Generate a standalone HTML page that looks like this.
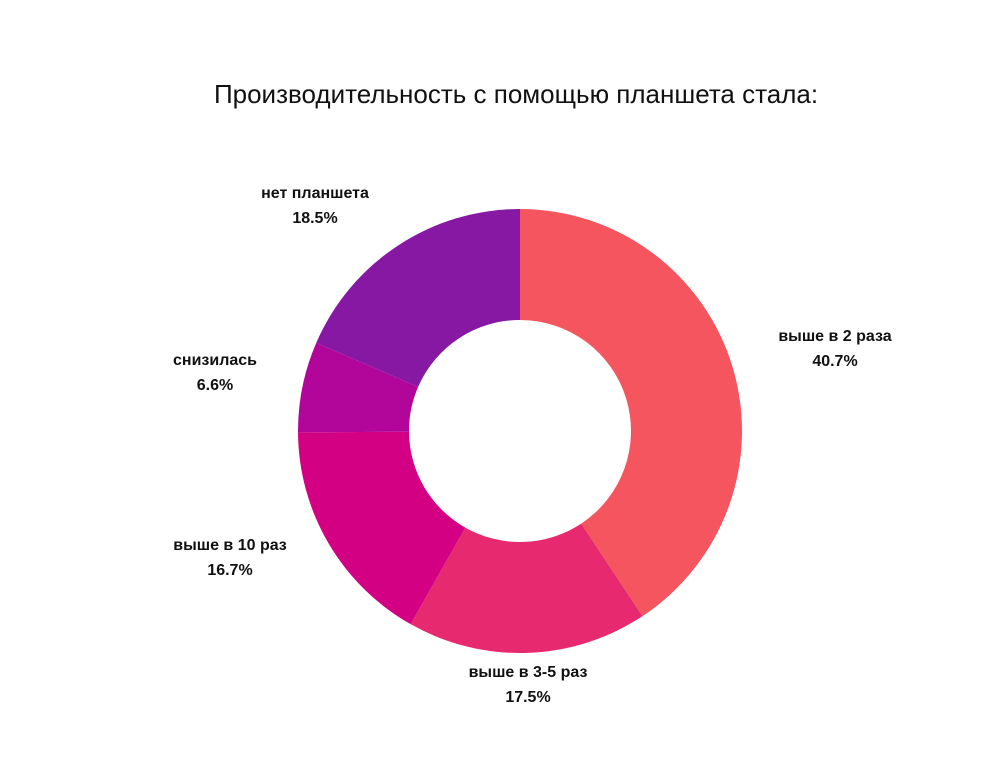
<!DOCTYPE html>
<html><head><meta charset="utf-8">
<style>
html,body{margin:0;padding:0;background:#fff;}
svg{display:block;}
text{font-family:"Liberation Sans","DejaVu Sans",sans-serif;}
</style></head>
<body>
<svg id="chart" width="994" height="763">
  <text x="516" y="103" text-anchor="middle" font-size="26" fill="#111">Производительность с помощью планшета стала:</text>
  <g id="slices"></g>
  <g id="labels"></g>
</svg>
<script>
const categories = ["выше в 2 раза", "выше в 3-5 раз", "выше в 10 раз", "снизилась", "нет планшета"];
const values = [40.7, 17.5, 16.7, 6.6, 18.5];
const colors = ["#f4555f", "#e72a70", "#d30083", "#b2069a", "#8718a4"];
const labelPos = [[835, 341], [528, 677], [230, 550], [215, 365], [315, 198]];

const cx = 520, cy = 431, R = 222, r = 111;
const NS = "http://www.w3.org/2000/svg";
const total = values.reduce((a, b) => a + b, 0);
function pt(rad, frac) {
  const a = frac * 2 * Math.PI;
  return [cx + rad * Math.sin(a), cy - rad * Math.cos(a)];
}
const gS = document.getElementById("slices");
const gL = document.getElementById("labels");
let acc = 0;
values.forEach((v, i) => {
  const f0 = acc / total, f1 = (acc + v) / total;
  acc += v;
  const large = (f1 - f0) > 0.5 ? 1 : 0;
  const [x0, y0] = pt(R, f0), [x1, y1] = pt(R, f1);
  const [x2, y2] = pt(r, f1), [x3, y3] = pt(r, f0);
  const p = document.createElementNS(NS, "path");
  p.setAttribute("d", `M${x0},${y0} A${R},${R} 0 ${large} 1 ${x1},${y1} L${x2},${y2} A${r},${r} 0 ${large} 0 ${x3},${y3} Z`);
  p.setAttribute("fill", colors[i]);
  
  
  gS.appendChild(p);

  const [lx, ly] = labelPos[i];
  const t = document.createElementNS(NS, "text");
  t.setAttribute("x", lx);
  t.setAttribute("y", ly);
  t.setAttribute("text-anchor", "middle");
  t.setAttribute("font-size", "16");
  t.setAttribute("font-weight", "bold");
  t.setAttribute("fill", "#111");
  
  
  const s1 = document.createElementNS(NS, "tspan");
  s1.setAttribute("x", lx);
  s1.textContent = categories[i];
  const s2 = document.createElementNS(NS, "tspan");
  s2.setAttribute("x", lx);
  s2.setAttribute("dy", "25");
  s2.textContent = ((v / total) * 100).toFixed(1) + "%";
  t.appendChild(s1);
  t.appendChild(s2);
  gL.appendChild(t);
});
</script>
</body></html>
